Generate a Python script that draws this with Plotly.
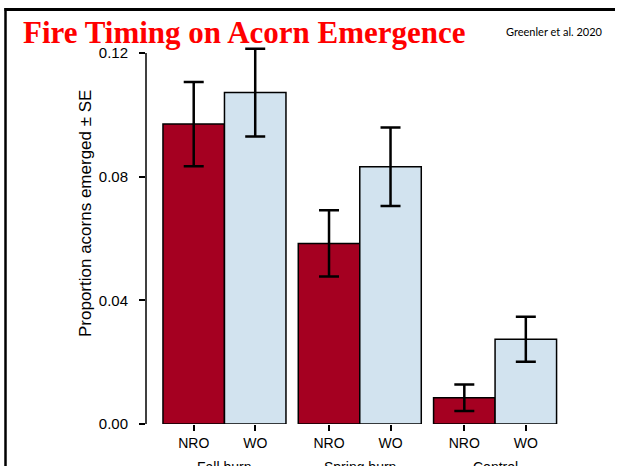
import plotly.graph_objects as go

# Data
groups = ["Fall burn", "Spring burn", "Control"]
bar_labels = ["NRO", "WO", "NRO", "WO", "NRO", "WO"]
bar_pos = [0.5, 1.5, 2.7, 3.7, 4.9, 5.9]
group_pos = [1.0, 3.2, 5.4]
nro_values = [0.0970, 0.0584, 0.0085]
wo_values = [0.1072, 0.0832, 0.0274]
nro_se = [0.0136, 0.0107, 0.0043]
wo_se = [0.0142, 0.0127, 0.0073]
y_ticks = [0.0, 0.04, 0.08, 0.12]
y_ticktext = ["0.00", "0.04", "0.08", "0.12"]

RED = "#A50021"
BLUE = "#D2E3EF"

fig = go.Figure()
err_style = dict(type="data", visible=True, color="black", thickness=2.5, width=10)
fig.add_trace(go.Bar(
    x=bar_pos[0::2], y=nro_values, width=1.0, name="NRO",
    marker=dict(color=RED, line=dict(color="black", width=1.5)),
    error_y=dict(array=nro_se, **err_style), cliponaxis=False,
))
fig.add_trace(go.Bar(
    x=bar_pos[1::2], y=wo_values, width=1.0, name="WO",
    marker=dict(color=BLUE, line=dict(color="black", width=1.5)),
    error_y=dict(array=wo_se, **err_style), cliponaxis=False,
))

W, H = 620, 466
ML, MR, MT, MB = 146, 60, 41, 42
pw, ph = W - ML - MR, H - MT - MB

def px2paper_x(px):
    return (px - ML) / pw

def py2paper_y(py):
    return (H - MB - py) / ph

shapes = [
    # y axis line from 0 to 0.12
    dict(type="line", xref="paper", yref="y", x0=0, x1=0, y0=0, y1=0.12,
         line=dict(color="black", width=1.5)),
    # slide frame: left and top edges
    dict(type="line", xref="paper", yref="paper", x0=px2paper_x(5.5), x1=px2paper_x(5.5),
         y0=py2paper_y(8), y1=py2paper_y(470), line=dict(color="black", width=2.5)),
    dict(type="line", xref="paper", yref="paper", x0=px2paper_x(4.5), x1=px2paper_x(615),
         y0=py2paper_y(9.5), y1=py2paper_y(9.5), line=dict(color="black", width=3)),
]

annotations = []
for g, gx in zip(groups, group_pos):
    annotations.append(dict(x=gx, xref="x", y=py2paper_y(467), yref="paper",
                            text=g, showarrow=False, yanchor="middle",
                            font=dict(family="Liberation Sans", size=14, color="black")))
annotations.append(dict(x=px2paper_x(85), xref="paper", y=py2paper_y(214), yref="paper",
                        text="Proportion acorns emerged ± SE", textangle=-90, showarrow=False,
                        xanchor="center", yanchor="middle",
                        font=dict(family="Liberation Sans", size=17, color="black")))
annotations.append(dict(x=px2paper_x(21), xref="paper", y=py2paper_y(33), yref="paper",
                        text="<b>Fire Timing on Acorn Emergence</b>", showarrow=False,
                        xanchor="left", yanchor="middle",
                        font=dict(family="Liberation Serif", size=31, color="#FF0000")))
annotations.append(dict(x=px2paper_x(605), xref="paper", y=py2paper_y(31), yref="paper",
                        text="Greenler et al. 2020", showarrow=False,
                        xanchor="right", yanchor="middle",
                        font=dict(family="Lato", size=11, color="black")))

fig.update_layout(
    width=W, height=H,
    margin=dict(l=ML, r=MR, t=MT, b=MB, pad=0),
    paper_bgcolor="white", plot_bgcolor="white",
    showlegend=False, barmode="overlay",
    shapes=shapes, annotations=annotations,
    font=dict(family="Liberation Sans", color="black"),
)
fig.update_xaxes(
    range=[-0.276, pw / 61.5 - 0.276], showgrid=False, zeroline=False, showline=False,
    tickmode="array", tickvals=bar_pos, ticktext=bar_labels,
    ticks="outside", ticklen=6, tickwidth=1.5, tickcolor="black",
    ticklabelstandoff=0,
    tickfont=dict(family="Liberation Sans", size=14, color="black"),
)
fig.update_yaxes(
    range=[0, ph / 3091.7], showgrid=False, zeroline=False, showline=False,
    tickmode="array", tickvals=y_ticks, ticktext=y_ticktext,
    ticks="outside", ticklen=6, tickwidth=1.5, tickcolor="black",
    ticklabelstandoff=8,
    tickfont=dict(family="Liberation Sans", size=15, color="black"),
)

fig.write_html(
    "out.html", config={"displayModeBar": False},
    post_script=("document.documentElement.style.margin='0';"
                 "document.body.style.margin='0';document.body.style.padding='0';"
                 "document.body.style.overflow='hidden';window.scrollTo(0,0);"),
)
